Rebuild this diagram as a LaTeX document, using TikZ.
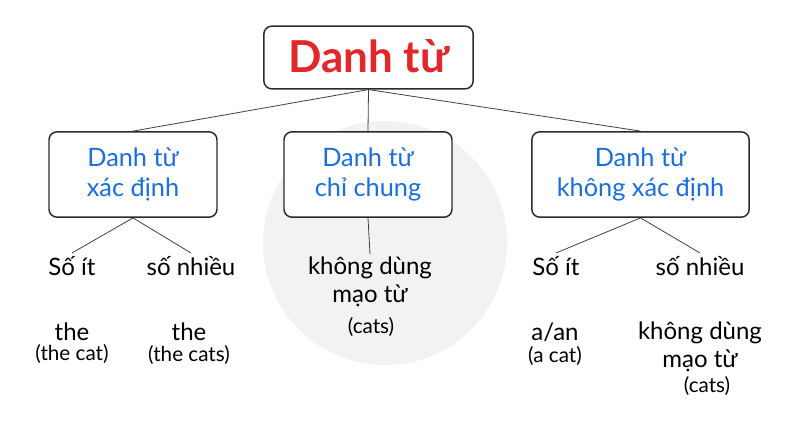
\documentclass[tikz,border=0pt]{standalone}
\usepackage{fontspec}
\setmainfont{Lato}
\usepackage{xcolor}
\usetikzlibrary{calc,positioning}

\definecolor{rootred}{HTML}{E3262A}
\definecolor{kindblue}{HTML}{1A6EE0}
\definecolor{edgegray}{HTML}{2B2B2B}

\begin{document}
\begin{tikzpicture}[
        x=0.75pt, y=-0.75pt,
        rootbox/.style={
            rectangle,
            rounded corners=6pt,
            draw=edgegray,
            line width=1.1pt,
            fill=white,
            minimum width=157pt,
            minimum height=47pt,
            text=rootred,
            text height=23pt,
            text depth=0pt,
            font=\fontsize{33}{37}\selectfont\bfseries
        },
        kindbox/.style={
            rectangle,
            rounded corners=6pt,
            draw=edgegray,
            line width=1.1pt,
            fill=white,
            minimum width=126pt,
            minimum height=64pt,
            align=center,
            text=kindblue,
            font=\fontsize{19}{23}\selectfont
        },
        leaf/.style={
            anchor=base,
            align=center,
            inner sep=2pt,
            font=\fontsize{18}{20.5}\selectfont
        },
        example/.style={
            anchor=base,
            align=center,
            inner sep=1pt,
            font=\fontsize{15.5}{17}\selectfont
        },
        link/.style={
            draw=edgegray!90,
            line width=0.6pt
        }
    ]
    \useasboundingbox (0,0) rectangle (800,429);

    % Watermark disc
    \fill[black!5] (385,243) circle[radius=91.5pt];

    % Root
    \node[rootbox] (root) at (368.5,57.5) {Danh từ};

    % Kinds of nouns
    \node[kindbox] (xacdinh) at (133,174.5) {Danh từ\\xác định};
    \node[kindbox] (chichung) at (368,174.5) {Danh từ\\chỉ chung};
    \node[kindbox, minimum width=163pt] (khongxd) at (640.5,174.5)
        {Danh từ\\không xác định};

    % Definite: singular / plural
    \node[leaf] (soitA) at (72,275) {Số ít};
    \node[leaf] (sonhieuA) at (191,275) {số nhiều};
    \node[leaf] (theA) at (72,340) {the};
    \node[example] (catA) at (72,360) {(the cat)};
    \node[leaf] (theB) at (189,340) {the};
    \node[example] (catsA) at (189,361) {(the cats)};

    % General (base is the last line)
    \node[leaf] (khongdungB) at (370,302) {không dùng\\mạo từ};
    \node[example] (catsB) at (371,333) {(cats)};

    % Indefinite: singular / plural
    \node[leaf] (soitC) at (556,275) {Số ít};
    \node[leaf] (sonhieuC) at (700,275) {số nhiều};
    \node[leaf] (aanC) at (555,340) {a/an};
    \node[example] (catC) at (555,362) {(a cat)};
    \node[leaf] (khongdungC) at (700,367) {không dùng\\mạo từ};
    \node[example] (catsC) at (707,392) {(cats)};

    % Connectors: root -> kinds
    \draw[link] (root.south) -- (xacdinh.north);
    \draw[link] (root.south) -- (chichung.north);
    \draw[link] (root.south) -- (khongxd.north);

    % Connectors: kinds -> number
    \draw[link] (xacdinh.south) -- (soitA.north);
    \draw[link] (xacdinh.south) -- (sonhieuA.north);
    \draw[link] (chichung.south) -- (khongdungB.north);
    \draw[link] (khongxd.south) -- (soitC.north);
    \draw[link] (khongxd.south) -- (sonhieuC.north);

    \end{tikzpicture}
\end{document}
